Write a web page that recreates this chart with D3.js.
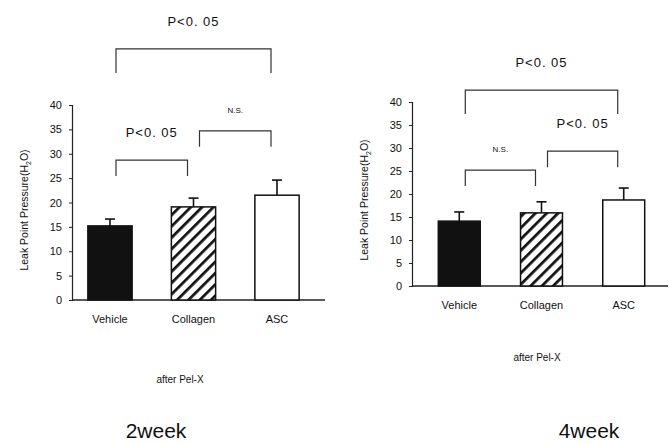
<!DOCTYPE html>
<html lang="en">
<head>
<meta charset="utf-8">
<title>Leak point pressure after Pel-X</title>
<script src="https://cdn.jsdelivr.net/npm/d3@7"></script>
<style>
  body { margin: 0; background: #fff; }
  svg { display: block; font-family: "Liberation Sans", Arial, sans-serif; }
</style>
</head>
<body>
<script>
// values
var categories = ["Vehicle", "Collagen", "ASC"];
var week2Means = [15.2, 19.1, 21.5];
var week2Errors = [1.4, 1.8, 3.1];
var week4Means = [14.1, 15.9, 18.7];
var week4Errors = [2.0, 2.4, 2.6];
var yTicks = [0, 5, 10, 15, 20, 25, 30, 35, 40];
// comparison brackets: bar indexes, height in axis units, label
var week2Brackets = [
  {from: 0, to: 1, level: 28.7, label: "P<0. 05"},
  {from: 1, to: 2, level: 34.7, label: "N.S."},
  {from: 0, to: 2, level: 51.5, label: "P<0. 05"}
];
var week4Brackets = [
  {from: 0, to: 1, level: 25.2, label: "N.S."},
  {from: 1, to: 2, level: 29.3, label: "P<0. 05"},
  {from: 0, to: 2, level: 42.6, label: "P<0. 05"}
];

var W = 672, H = 444;
var svg = d3.select("body").append("svg")
  .attr("width", W).attr("height", H);

// hatch for the Collagen bar
svg.append("defs").append("pattern")
  .attr("id", "hatch")
  .attr("patternUnits", "userSpaceOnUse")
  .attr("width", 8).attr("height", 8)
  .attr("patternTransform", "rotate(45)")
  .call(function(p) {
    p.append("rect").attr("width", 8).attr("height", 8).attr("fill", "#fff");
    p.append("line").attr("x1", 0).attr("y1", 0).attr("x2", 0).attr("y2", 8)
      .attr("stroke", "#111").attr("stroke-width", 5.5);
  });

var fills = ["#111", "url(#hatch)", "#fff"];

function drawPanel(opt) {
  var g = svg.append("g");

  var x = d3.scaleBand()
    .domain(categories)
    .range([opt.left, opt.right])
    .paddingInner(opt.padIn)
    .paddingOuter(opt.padOut);

  var y = d3.scaleLinear()
    .domain([0, 40])
    .range([opt.bottom, opt.top]);

  var rows = categories.map(function(c, i) {
    return {cat: c, mean: opt.means[i], err: opt.errors[i], fill: fills[i]};
  });

  // y axis
  var yAxis = g.append("g")
    .attr("transform", "translate(" + opt.left + ",0)")
    .call(d3.axisLeft(y).tickValues(yTicks).tickSize(3).tickPadding(7).tickFormat(d3.format("d")));
  yAxis.select(".domain").attr("stroke", "#222").attr("stroke-width", 1.2);
  yAxis.selectAll(".tick line").attr("stroke", "#222");
  yAxis.selectAll("text")
    .attr("font-size", "11px")
    .attr("fill", "#111")
    .attr("font-family", "'Liberation Sans', Arial, sans-serif");

  // x axis line and category labels
  g.append("line")
    .attr("x1", opt.left).attr("x2", opt.axisEnd)
    .attr("y1", y(0)).attr("y2", y(0))
    .attr("stroke", "#222").attr("stroke-width", 1.4);

  g.selectAll(".cat")
    .data(categories)
    .enter().append("text")
    .attr("x", function(d) { return x(d) + x.bandwidth() / 2; })
    .attr("y", opt.catY)
    .attr("text-anchor", "middle")
    .attr("font-size", "11px")
    .attr("fill", "#111")
    .text(function(d) { return d; });

  // error bars (upper only)
  var eb = g.selectAll(".err").data(rows).enter().append("g");
  eb.append("line")
    .attr("x1", function(d) { return x(d.cat) + x.bandwidth() / 2; })
    .attr("x2", function(d) { return x(d.cat) + x.bandwidth() / 2; })
    .attr("y1", function(d) { return y(d.mean); })
    .attr("y2", function(d) { return y(d.mean + d.err); })
    .attr("stroke", "#111").attr("stroke-width", 1.6);
  eb.append("line")
    .attr("x1", function(d) { return x(d.cat) + x.bandwidth() / 2 - 5; })
    .attr("x2", function(d) { return x(d.cat) + x.bandwidth() / 2 + 5; })
    .attr("y1", function(d) { return y(d.mean + d.err); })
    .attr("y2", function(d) { return y(d.mean + d.err); })
    .attr("stroke", "#111").attr("stroke-width", 1.6);

  // bars
  g.selectAll(".bar")
    .data(rows)
    .enter().append("rect")
    .attr("x", function(d) { return x(d.cat); })
    .attr("width", x.bandwidth())
    .attr("y", function(d) { return y(d.mean); })
    .attr("height", function(d) { return y(0) - y(d.mean); })
    .attr("fill", function(d) { return d.fill; })
    .attr("stroke", "#111").attr("stroke-width", 1.5);

  // significance brackets
  var br = g.selectAll(".bracket").data(opt.brackets).enter().append("g");
  function bx1(d) { return x(categories[d.from]) + x.bandwidth() / 2 + 6; }
  function bx2(d) { return x(categories[d.to]) + x.bandwidth() / 2 - 6; }
  function leg(d) { return (d.to - d.from) > 1 ? 24 : 16; }
  br.append("path")
    .attr("d", function(d) {
      var yy = y(d.level);
      return "M" + bx1(d) + "," + (yy + leg(d)) + "V" + yy + "H" + bx2(d) + "V" + (yy + leg(d));
    })
    .attr("fill", "none").attr("stroke", "#333").attr("stroke-width", 1.2);
  br.append("text")
    .attr("x", function(d) { return (bx1(d) + bx2(d)) / 2; })
    .attr("y", function(d) { return y(d.level) - (d.label === "N.S." ? 18 : 23); })
    .attr("text-anchor", "middle")
    .attr("font-size", function(d) { return d.label === "N.S." ? "8px" : "13px"; })
    .attr("letter-spacing", function(d) { return d.label === "N.S." ? 0 : 1; })
    .attr("fill", "#111")
    .text(function(d) { return d.label; });

  // y axis title
  var yt = g.append("text")
    .attr("transform", "translate(" + opt.titleX + "," + opt.titleY + ") rotate(-90)")
    .attr("text-anchor", "middle")
    .attr("font-size", "10.5px")
    .attr("fill", "#111");
  yt.append("tspan").text("Leak Point Pressure(H");
  yt.append("tspan").attr("font-size", "7px").attr("dy", 3).text("2");
  yt.append("tspan").attr("dy", -3).text("O)");

  // captions
  g.append("text")
    .attr("x", opt.afterX).attr("y", opt.afterY)
    .attr("text-anchor", "middle")
    .attr("font-size", "10px")
    .attr("fill", "#111")
    .text("after Pel-X");
  g.append("text")
    .attr("x", opt.weekX).attr("y", 438)
    .attr("text-anchor", "middle")
    .attr("font-size", "21px")
    .attr("fill", "#111")
    .text(opt.week);
}

drawPanel({
  means: week2Means, errors: week2Errors, brackets: week2Brackets,
  left: 72, right: 315, axisEnd: 325, padIn: 0.47, padOut: 0.19,
  bottom: 300, top: 105, catY: 323,
  titleX: 28, titleY: 210,
  afterX: 180, afterY: 383,
  weekX: 156, week: "2week"
});

drawPanel({
  means: week4Means, errors: week4Errors, brackets: week4Brackets,
  left: 412, right: 671, axisEnd: 668, padIn: 0.49, padOut: 0.32,
  bottom: 286, top: 102, catY: 309,
  titleX: 368, titleY: 200,
  afterX: 537, afterY: 361,
  weekX: 589, week: "4week"
});
</script>
</body>
</html>
